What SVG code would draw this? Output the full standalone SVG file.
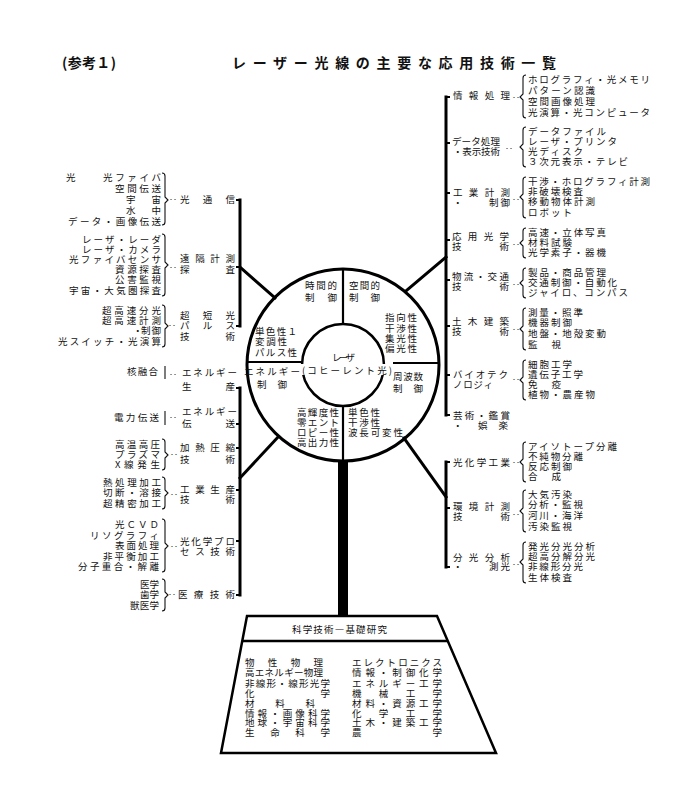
<svg xmlns="http://www.w3.org/2000/svg" width="700" height="794" viewBox="0 0 700 794">
<style>
text{font-family:"Noto Sans CJK JP","Noto Sans CJK SC",sans-serif;fill:#111;}
.t{font-size:9.5px;}
.ti{font-size:14px;font-weight:bold;}
.d{font-size:8px;}
.br{fill:none;stroke:#111;stroke-width:1.1;}
.bar{stroke:#000;stroke-width:3;fill:none;stroke-linecap:square;}
.ln{stroke:#000;stroke-width:2.2;fill:none;}
.nub{stroke:#000;stroke-width:2;}
</style>
<rect width="700" height="794" fill="#fff"/>
<g id="title">
<text class="ti" x="62" y="68" textLength="54" lengthAdjust="spacing">(参考１)</text>
<text class="ti" x="232" y="68" textLength="324" lengthAdjust="spacing">レーザー光線の主要な応用技術一覧</text>
</g>
<g id="connectors">
<line class="bar" x1="240" y1="200" x2="240" y2="326"/>
<line class="bar" x1="240" y1="388" x2="240" y2="595"/>
<line class="bar" x1="446" y1="97" x2="446" y2="415"/>
<line class="bar" x1="446" y1="462" x2="446" y2="567"/>
<line class="bar" x1="240" y1="267" x2="275" y2="298"/>
<line class="bar" x1="240" y1="478" x2="278" y2="437"/>
<line class="bar" x1="446" y1="257" x2="406" y2="291"/>
<line class="bar" x1="446" y1="497" x2="404" y2="438"/>
<rect x="338" y="460" width="10" height="157" fill="#000"/>
<g class="nub">
<line x1="236" y1="200" x2="240" y2="200"/><line x1="236" y1="267" x2="240" y2="267"/><line x1="236" y1="326" x2="240" y2="326"/>
<line x1="236" y1="388" x2="240" y2="388"/><line x1="236" y1="424" x2="240" y2="424"/><line x1="236" y1="448" x2="240" y2="448"/>
<line x1="236" y1="490" x2="240" y2="490"/><line x1="236" y1="541" x2="240" y2="541"/><line x1="236" y1="595" x2="240" y2="595"/>
<line x1="446" y1="97" x2="450" y2="97"/><line x1="446" y1="143" x2="450" y2="143"/><line x1="446" y1="193" x2="450" y2="193"/>
<line x1="446" y1="240" x2="450" y2="240"/><line x1="446" y1="280" x2="450" y2="280"/><line x1="446" y1="326" x2="450" y2="326"/>
<line x1="446" y1="375" x2="450" y2="375"/><line x1="446" y1="415" x2="450" y2="415"/><line x1="446" y1="462" x2="450" y2="462"/>
<line x1="446" y1="508" x2="450" y2="508"/><line x1="446" y1="567" x2="450" y2="567"/>
</g>
</g>
<g id="laser-circle">
<circle cx="343" cy="365" r="96" fill="none" stroke="#000" stroke-width="3"/>
<circle cx="343" cy="365" r="41" fill="none" stroke="#000" stroke-width="2.5"/>
<line class="ln" x1="343" y1="269" x2="343" y2="324"/>
<line class="ln" x1="343" y1="406" x2="343" y2="461"/>
<line class="ln" x1="247" y1="362" x2="302" y2="362"/>
<line class="ln" x1="393" y1="363" x2="439" y2="363"/>
<rect x="300" y="364" width="94" height="11" fill="#fff"/>
<text class="t" x="332" y="361" textLength="23" lengthAdjust="spacing">レーザ</text>
<text class="t" x="302" y="374" textLength="90" lengthAdjust="spacing">(コヒーレント光)</text>
<text class="t" x="305" y="289" textLength="32" lengthAdjust="spacing">時間的</text>
<text class="t" x="305" y="301" textLength="32" lengthAdjust="spacing">制御</text>
<text class="t" x="349" y="289" textLength="31" lengthAdjust="spacing">空間的</text>
<text class="t" x="349" y="301" textLength="31" lengthAdjust="spacing">制御</text>
<text class="t" x="385" y="321" textLength="32" lengthAdjust="spacing">指向性</text>
<text class="t" x="385" y="332" textLength="32" lengthAdjust="spacing">干渉性</text>
<text class="t" x="385" y="342" textLength="32" lengthAdjust="spacing">集光性</text>
<text class="t" x="385" y="352" textLength="32" lengthAdjust="spacing">偏光性</text>
<text class="t" x="255" y="335" textLength="42" lengthAdjust="spacing">単色性１</text>
<text class="t" x="255" y="345" textLength="32" lengthAdjust="spacing">変調性</text>
<text class="t" x="255" y="356" textLength="42" lengthAdjust="spacing">パルス性</text>
<text class="t" x="244" y="375" textLength="56" lengthAdjust="spacing">エネルギー</text>
<text class="t" x="257" y="388" textLength="30" lengthAdjust="spacing">制御</text>
<text class="t" x="393" y="380" textLength="30" lengthAdjust="spacing">周波数</text>
<text class="t" x="393" y="392" textLength="30" lengthAdjust="spacing">制御</text>
<text class="t" x="297" y="416" textLength="42" lengthAdjust="spacing">高輝度性</text>
<text class="t" x="297" y="426" textLength="42" lengthAdjust="spacing">零エント</text>
<text class="t" x="297" y="436" textLength="42" lengthAdjust="spacing">ロピー性</text>
<text class="t" x="297" y="446" textLength="42" lengthAdjust="spacing">高出力性</text>
<text class="t" x="348" y="416" textLength="32" lengthAdjust="spacing">単色性</text>
<text class="t" x="348" y="426" textLength="32" lengthAdjust="spacing">干渉性</text>
<text class="t" x="348" y="436" textLength="55" lengthAdjust="spacing">波長可変性</text>
</g>
<g id="hikari-tsushin">
<text class="t" x="66" y="181">光</text>
<text class="t" x="103" y="181" textLength="58" lengthAdjust="spacing">光ファイバ</text>
<text class="t" x="115" y="192" textLength="46" lengthAdjust="spacing">空間伝送</text>
<text class="t" x="126" y="203" textLength="35" lengthAdjust="spacing">宇宙</text>
<text class="t" x="126" y="214" textLength="35" lengthAdjust="spacing">水中</text>
<text class="t" x="68" y="225" textLength="93" lengthAdjust="spacing">データ・画像伝送</text>
<path class="br" d="M162,173 q3,0 3,3 V197 l3,3 l-3,3 V222 q0,3 -3,3"/>
<text class="d" x="169" y="203">‥</text>
<text class="t" x="180" y="203" textLength="55" lengthAdjust="spacing">光通信</text>
</g>
<g id="enkaku-keisoku">
<text class="t" x="82" y="243" textLength="79" lengthAdjust="spacing">レーザ・レーダ</text>
<text class="t" x="82" y="253" textLength="79" lengthAdjust="spacing">レーザ・カメラ</text>
<text class="t" x="69" y="263" textLength="92" lengthAdjust="spacing">光ファイバセンサ</text>
<text class="t" x="115" y="273" textLength="46" lengthAdjust="spacing">資源探査</text>
<text class="t" x="115" y="283" textLength="46" lengthAdjust="spacing">公害監視</text>
<text class="t" x="69" y="294" textLength="92" lengthAdjust="spacing">宇宙・大気圏探査</text>
<path class="br" d="M162,234 q3,0 3,3 V262 l3,3 l-3,3 V293 q0,3 -3,3"/>
<text class="d" x="169" y="271">‥</text>
<text class="t" x="180" y="262" textLength="55" lengthAdjust="spacing">遠隔計測</text>
<text class="t" x="180" y="273" textLength="55" lengthAdjust="spacing">探査</text>
</g>
<g id="chotan-pulse">
<text class="t" x="102" y="314" textLength="59" lengthAdjust="spacing">超高速分光</text>
<text class="t" x="102" y="324" textLength="59" lengthAdjust="spacing">超高速計測</text>
<text class="t" x="133" y="334">・</text>
<text class="t" x="141" y="334" textLength="20" lengthAdjust="spacing">制御</text>
<text class="t" x="58" y="345" textLength="103" lengthAdjust="spacing">光スイッチ・光演算</text>
<path class="br" d="M162,305 q3,0 3,3 V323 l3,3 l-3,3 V344 q0,3 -3,3"/>
<text class="d" x="168" y="329">‥</text>
<text class="t" x="180" y="319" textLength="55" lengthAdjust="spacing">超短光</text>
<text class="t" x="180" y="329" textLength="55" lengthAdjust="spacing">パルス</text>
<text class="t" x="180" y="340" textLength="55" lengthAdjust="spacing">技術</text>
</g>
<g id="energy-seisan">
<text class="t" x="127" y="375" textLength="31" lengthAdjust="spacing">核融合</text>
<line class="br" x1="165" y1="366" x2="165" y2="379"/>
<text class="d" x="169" y="378">‥</text>
<text class="t" x="182" y="376" textLength="55" lengthAdjust="spacing">エネルギー</text>
<text class="t" x="182" y="390" textLength="53" lengthAdjust="spacing">生産</text>
</g>
<g id="energy-densou">
<text class="t" x="114" y="421" textLength="45" lengthAdjust="spacing">電力伝送</text>
<line class="br" x1="165" y1="411" x2="165" y2="425"/>
<text class="d" x="169" y="421">‥</text>
<text class="t" x="182" y="415" textLength="55" lengthAdjust="spacing">エネルギー</text>
<text class="t" x="182" y="427" textLength="53" lengthAdjust="spacing">伝送</text>
</g>
<g id="kanetsu-asshuku">
<text class="t" x="115" y="448" textLength="45" lengthAdjust="spacing">高温高圧</text>
<text class="t" x="115" y="458" textLength="45" lengthAdjust="spacing">プラズマ</text>
<text class="t" x="115" y="468" textLength="45" lengthAdjust="spacing">X線発生</text>
<path class="br" d="M162,439 q3,0 3,3 V452 l3,3 l-3,3 V467 q0,3 -3,3"/>
<text class="d" x="170" y="458">‥</text>
<text class="t" x="180" y="451" textLength="55" lengthAdjust="spacing">加熱圧縮</text>
<text class="t" x="180" y="463" textLength="55" lengthAdjust="spacing">技術</text>
</g>
<g id="kogyo-seisan">
<text class="t" x="103" y="486" textLength="58" lengthAdjust="spacing">熱処理加工</text>
<text class="t" x="103" y="496" textLength="58" lengthAdjust="spacing">切断・溶接</text>
<text class="t" x="103" y="507" textLength="58" lengthAdjust="spacing">超精密加工</text>
<path class="br" d="M162,477 q3,0 3,3 V490 l3,3 l-3,3 V506 q0,3 -3,3"/>
<text class="d" x="170" y="498">‥</text>
<text class="t" x="180" y="493" textLength="55" lengthAdjust="spacing">工業生産</text>
<text class="t" x="180" y="503" textLength="55" lengthAdjust="spacing">技術</text>
</g>
<g id="hikari-kagaku-process">
<text class="t" x="115" y="528" textLength="44" lengthAdjust="spacing">光ＣＶＤ</text>
<text class="t" x="90" y="539" textLength="69" lengthAdjust="spacing">リソグラフィ</text>
<text class="t" x="115" y="549" textLength="44" lengthAdjust="spacing">表面処理</text>
<text class="t" x="103" y="560" textLength="56" lengthAdjust="spacing">非平衡加工</text>
<text class="t" x="78" y="570" textLength="81" lengthAdjust="spacing">分子重合・解離</text>
<path class="br" d="M162,519 q3,0 3,3 V543 l3,3 l-3,3 V569 q0,3 -3,3"/>
<text class="d" x="170" y="550">‥</text>
<text class="t" x="180" y="545" textLength="55" lengthAdjust="spacing">光化学プロ</text>
<text class="t" x="180" y="555" textLength="55" lengthAdjust="spacing">セス技術</text>
</g>
<g id="iryo">
<text class="t" x="140" y="588" textLength="19" lengthAdjust="spacing">医学</text>
<text class="t" x="140" y="598" textLength="19" lengthAdjust="spacing">歯学</text>
<text class="t" x="130" y="609" textLength="29" lengthAdjust="spacing">獣医学</text>
<path class="br" d="M162,579 q3,0 3,3 V592 l3,3 l-3,3 V608 q0,3 -3,3"/>
<text class="d" x="168" y="598">‥</text>
<text class="t" x="178" y="598" textLength="57" lengthAdjust="spacing">医療技術</text>
</g>
<g id="joho-shori">
<text class="t" x="453" y="99" textLength="57" lengthAdjust="spacing">情報処理</text>
<text class="d" x="512" y="101">‥</text>
<path class="br" d="M526,75 q-3,0 -3,3 V94 l-3,3 l3,3 V115 q0,3 3,3"/>
<text class="t" x="528" y="83" textLength="122" lengthAdjust="spacing">ホログラフィ・光メモリ</text>
<text class="t" x="528" y="94" textLength="67" lengthAdjust="spacing">パターン認識</text>
<text class="t" x="528" y="105" textLength="67" lengthAdjust="spacing">空間画像処理</text>
<text class="t" x="528" y="116" textLength="122" lengthAdjust="spacing">光演算・光コンピュータ</text>
</g>
<g id="data-shori">
<text class="t" x="452" y="145" textLength="48" lengthAdjust="spacing">データ処理</text>
<text class="t" x="453" y="155" textLength="47" lengthAdjust="spacing">・表示技術</text>
<text class="d" x="505" y="152">‥</text>
<path class="br" d="M526,127 q-3,0 -3,3 V144 l-3,3 l3,3 V164 q0,3 3,3"/>
<text class="t" x="528" y="135" textLength="78" lengthAdjust="spacing">データファイル</text>
<text class="t" x="528" y="145" textLength="89" lengthAdjust="spacing">レーザ・プリンタ</text>
<text class="t" x="528" y="155" textLength="55" lengthAdjust="spacing">光ディスク</text>
<text class="t" x="528" y="165" textLength="100" lengthAdjust="spacing">３次元表示・テレビ</text>
</g>
<g id="kogyo-keisoku">
<text class="t" x="453" y="196" textLength="57" lengthAdjust="spacing">工業計測</text>
<text class="t" x="453" y="206">・</text>
<text class="t" x="489" y="206" textLength="21" lengthAdjust="spacing">制御</text>
<text class="d" x="512" y="203">‥</text>
<path class="br" d="M526,177 q-3,0 -3,3 V194 l-3,3 l3,3 V215 q0,3 3,3"/>
<text class="t" x="528" y="185" textLength="122" lengthAdjust="spacing">干渉・ホログラフィ計測</text>
<text class="t" x="528" y="195" textLength="55" lengthAdjust="spacing">非破壊検査</text>
<text class="t" x="528" y="205" textLength="67" lengthAdjust="spacing">移動物体計測</text>
<text class="t" x="528" y="216" textLength="44" lengthAdjust="spacing">ロボット</text>
</g>
<g id="oyo-kogaku">
<text class="t" x="452" y="240" textLength="57" lengthAdjust="spacing">応用光学</text>
<text class="t" x="452" y="250" textLength="57" lengthAdjust="spacing">技術</text>
<text class="d" x="512" y="248">‥</text>
<path class="br" d="M526,228 q-3,0 -3,3 V240 l-3,3 l3,3 V255 q0,3 3,3"/>
<text class="t" x="528" y="236" textLength="78" lengthAdjust="spacing">高速・立体写真</text>
<text class="t" x="528" y="246" textLength="44" lengthAdjust="spacing">材料試験</text>
<text class="t" x="528" y="256" textLength="78" lengthAdjust="spacing">光学素子・器機</text>
</g>
<g id="butsuryu">
<text class="t" x="452" y="280" textLength="57" lengthAdjust="spacing">物流・交通</text>
<text class="t" x="452" y="290" textLength="57" lengthAdjust="spacing">技術</text>
<text class="d" x="512" y="288">‥</text>
<path class="br" d="M526,268 q-3,0 -3,3 V280 l-3,3 l3,3 V295 q0,3 3,3"/>
<text class="t" x="528" y="276" textLength="78" lengthAdjust="spacing">製品・商品管理</text>
<text class="t" x="528" y="286" textLength="89" lengthAdjust="spacing">交通制御・自動化</text>
<text class="t" x="528" y="296" textLength="100" lengthAdjust="spacing">ジャイロ、コンパス</text>
</g>
<g id="doboku">
<text class="t" x="452" y="325" textLength="57" lengthAdjust="spacing">土木建築</text>
<text class="t" x="452" y="335" textLength="57" lengthAdjust="spacing">技術</text>
<text class="d" x="512" y="333">‥</text>
<path class="br" d="M526,308 q-3,0 -3,3 V326 l-3,3 l3,3 V347 q0,3 3,3"/>
<text class="t" x="528" y="316" textLength="55" lengthAdjust="spacing">測量・照準</text>
<text class="t" x="528" y="326" textLength="44" lengthAdjust="spacing">機器制御</text>
<text class="t" x="528" y="337" textLength="78" lengthAdjust="spacing">地盤・地殻変動</text>
<text class="t" x="528" y="348" textLength="33" lengthAdjust="spacing">監視</text>
</g>
<g id="bio">
<text class="t" x="453" y="378" textLength="55" lengthAdjust="spacing">バイオテク</text>
<text class="t" x="453" y="388" textLength="40" lengthAdjust="spacing">ノロジィ</text>
<text class="d" x="512" y="383">‥</text>
<path class="br" d="M526,360 q-3,0 -3,3 V377 l-3,3 l3,3 V397 q0,3 3,3"/>
<text class="t" x="528" y="368" textLength="44" lengthAdjust="spacing">細胞工学</text>
<text class="t" x="528" y="378" textLength="55" lengthAdjust="spacing">遺伝子工学</text>
<text class="t" x="528" y="388" textLength="33" lengthAdjust="spacing">免疫</text>
<text class="t" x="528" y="398" textLength="67" lengthAdjust="spacing">植物・農産物</text>
</g>
<g id="geijutsu">
<text class="t" x="453" y="419" textLength="57" lengthAdjust="spacing">芸術・鑑賞</text>
<text class="t" x="453" y="429">・</text>
<text class="t" x="478" y="429" textLength="30" lengthAdjust="spacing">娯楽</text>
</g>
<g id="hikari-kagaku-kogyo">
<text class="t" x="453" y="466" textLength="57" lengthAdjust="spacing">光化学工業</text>
<text class="d" x="512" y="466">‥</text>
<path class="br" d="M526,442 q-3,0 -3,3 V459 l-3,3 l3,3 V479 q0,3 3,3"/>
<text class="t" x="528" y="450" textLength="89" lengthAdjust="spacing">アイソトープ分離</text>
<text class="t" x="528" y="460" textLength="55" lengthAdjust="spacing">不純物分離</text>
<text class="t" x="528" y="470" textLength="44" lengthAdjust="spacing">反応制御</text>
<text class="t" x="528" y="480" textLength="33" lengthAdjust="spacing">合成</text>
</g>
<g id="kankyo-keisoku">
<text class="t" x="453" y="510" textLength="57" lengthAdjust="spacing">環境計測</text>
<text class="t" x="453" y="520" textLength="57" lengthAdjust="spacing">技術</text>
<text class="d" x="512" y="518">‥</text>
<path class="br" d="M526,490 q-3,0 -3,3 V508 l-3,3 l3,3 V529 q0,3 3,3"/>
<text class="t" x="528" y="498" textLength="44" lengthAdjust="spacing">大気汚染</text>
<text class="t" x="528" y="508" textLength="55" lengthAdjust="spacing">分析・監視</text>
<text class="t" x="528" y="519" textLength="55" lengthAdjust="spacing">河川・海洋</text>
<text class="t" x="528" y="530" textLength="44" lengthAdjust="spacing">汚染監視</text>
</g>
<g id="bunko-bunseki">
<text class="t" x="453" y="561" textLength="57" lengthAdjust="spacing">分光分析</text>
<text class="t" x="453" y="570">・</text>
<text class="t" x="489" y="570" textLength="21" lengthAdjust="spacing">測光</text>
<text class="d" x="512" y="568">‥</text>
<path class="br" d="M526,542 q-3,0 -3,3 V559 l-3,3 l3,3 V580 q0,3 3,3"/>
<text class="t" x="528" y="550" textLength="67" lengthAdjust="spacing">発光分光分析</text>
<text class="t" x="528" y="560" textLength="67" lengthAdjust="spacing">超高分解分光</text>
<text class="t" x="528" y="570" textLength="55" lengthAdjust="spacing">非線形分光</text>
<text class="t" x="528" y="581" textLength="44" lengthAdjust="spacing">生体検査</text>
</g>
<g id="kiso-kenkyu">
<path d="M247,616 L437,616 L496,753 L221,753 Z" fill="none" stroke="#000" stroke-width="2.5"/>
<line x1="242" y1="641" x2="448" y2="641" stroke="#000" stroke-width="2.5"/>
<text class="t" x="292" y="633" textLength="95" lengthAdjust="spacing">科学技術―基礎研究</text>
<text class="t" x="245" y="666" textLength="78" lengthAdjust="spacing">物性物理</text>
<text class="t" x="245" y="676" textLength="78" lengthAdjust="spacing">高エネルギー物理</text>
<text class="t" x="245" y="687" textLength="85" lengthAdjust="spacing">非線形・線形光学</text>
<text class="t" x="245" y="697" textLength="85" lengthAdjust="spacing">化学</text>
<text class="t" x="245" y="707" textLength="70" lengthAdjust="spacing">材料科</text>
<text class="t" x="245" y="717" textLength="85" lengthAdjust="spacing">情報・画像科学</text>
<text class="t" x="245" y="726" textLength="85" lengthAdjust="spacing">地球・宇宙科学</text>
<text class="t" x="245" y="736" textLength="85" lengthAdjust="spacing">生命科学</text>
<text class="t" x="352" y="666" textLength="90" lengthAdjust="spacing">エレクトロニクス</text>
<text class="t" x="352" y="676" textLength="90" lengthAdjust="spacing">情報・制御化学</text>
<text class="t" x="352" y="687" textLength="90" lengthAdjust="spacing">エネルギー工学</text>
<text class="t" x="352" y="697" textLength="90" lengthAdjust="spacing">機械工学</text>
<text class="t" x="352" y="707" textLength="90" lengthAdjust="spacing">材料・資源工学</text>
<text class="t" x="352" y="717" textLength="90" lengthAdjust="spacing">化学工学</text>
<text class="t" x="352" y="726" textLength="90" lengthAdjust="spacing">土木・建築工学</text>
<text class="t" x="352" y="736" textLength="90" lengthAdjust="spacing">農学</text>
</g>
</svg>
